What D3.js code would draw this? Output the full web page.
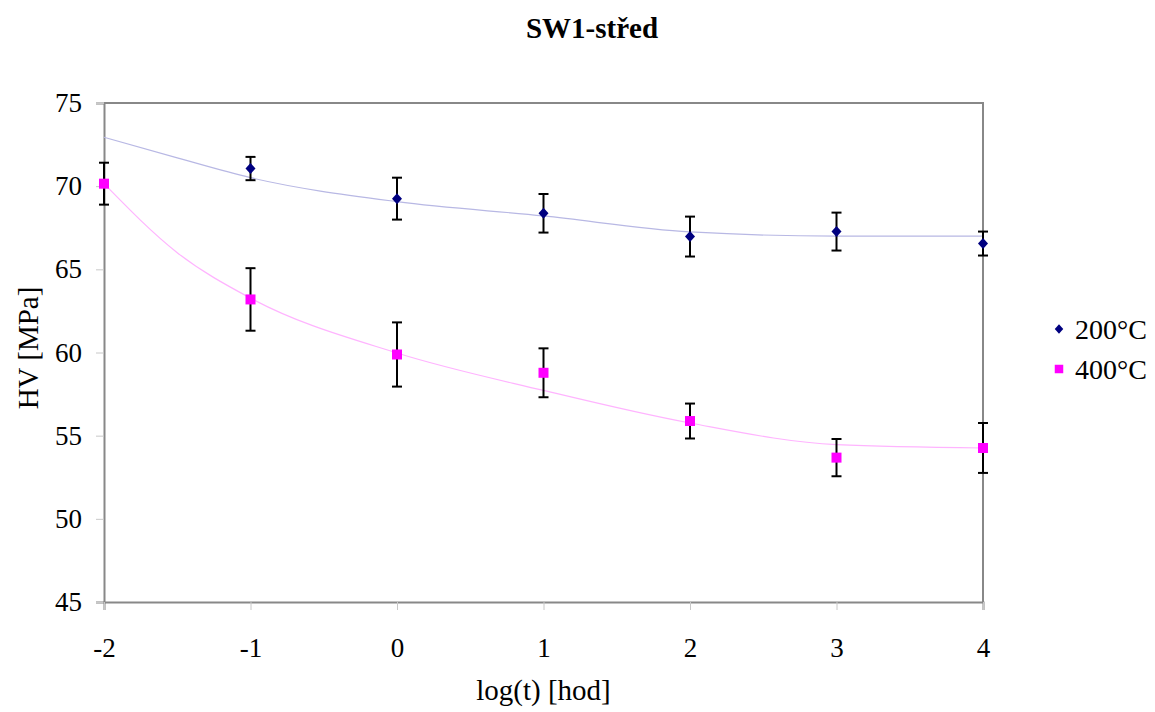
<!DOCTYPE html>
<html>
<head>
<meta charset="utf-8">
<script src="https://cdn.jsdelivr.net/npm/d3@7"></script>
<style>
  body { margin: 0; background: #fff; }
  svg, svg text { font-family: "Liberation Serif", "Times New Roman", "DejaVu Serif", serif; }
</style>
</head>
<body>
<script>
// values
const xValues = [-2, -1, 0, 1, 2, 3, 4];
const hv200 = [null, 71.06, 69.25, 68.37, 66.97, 67.27, 66.55];
const err200 = [null, 0.7, 1.26, 1.16, 1.2, 1.14, 0.72];
const hv400 = [70.15, 63.19, 59.88, 58.78, 55.88, 53.68, 54.26];
const err400 = [1.26, 1.88, 1.93, 1.47, 1.05, 1.12, 1.5];

// trend lines (read at sample points)
const trendX = [-2, -1.5, -1, 0, 1, 2, 3, 4];
const trend200 = [72.94, 71.7, 70.51, 69.07, 68.21, 67.25, 67.0, 67.0];
const trend400 = [70.15, 66.0, 63.27, 59.97, 57.72, 55.76, 54.46, 54.26];

const yTicks = [45, 50, 55, 60, 65, 70, 75];
const seriesNames = ['200°C', '400°C'];

const width = 1155;
const height = 712;
const plot = { left: 104, right: 983, top: 103, bottom: 602 };
const serif = '"Liberation Serif", "Times New Roman", serif';

const x = d3.scaleLinear().domain([-2, 4]).range([plot.left, plot.right]);
const y = d3.scaleLinear().domain([45, 75]).range([plot.bottom, plot.top]);

const svg = d3.select('body').append('svg')
  .attr('width', width)
  .attr('height', height)
  .attr('font-family', serif);

// frame (top and right edges)
svg.append('path')
  .attr('d', `M${plot.left},${plot.top}H${plot.right}V${plot.bottom}`)
  .attr('fill', 'none')
  .attr('stroke', '#888')
  .attr('stroke-width', 2);

const yAxis = svg.append('g')
  .attr('transform', `translate(${plot.left},0)`)
  .call(d3.axisLeft(y).tickValues(yTicks).tickSize(8).tickPadding(14));

const xAxis = svg.append('g')
  .attr('transform', `translate(0,${plot.bottom})`)
  .call(d3.axisBottom(x).tickValues(xValues).tickSize(8).tickPadding(28)
    .tickFormat(d3.format('d')));

[yAxis, xAxis].forEach((ax) => {
  ax.attr('font-family', serif).attr('font-size', 27);
  ax.select('.domain').attr('stroke', '#888').attr('stroke-width', 2);
  ax.selectAll('.tick line').attr('stroke', '#c8c8c8');
  ax.selectAll('.tick text')
    .attr('fill', '#000')
    .attr('font-family', serif)
    .style('font-size', '27px');
});
xAxis.selectAll('.tick text').text(d => (d < 0 ? `-${-d}` : d));

// trend lines
const line = d3.line()
  .x(d => x(d[0]))
  .y(d => y(d[1]))
  .curve(d3.curveMonotoneX);

svg.append('path')
  .datum(trendX.map((t, i) => [t, trend200[i]]))
  .attr('d', line)
  .attr('fill', 'none')
  .attr('stroke', '#b8b8e4')
  .attr('stroke-width', 1.2);

svg.append('path')
  .datum(trendX.map((t, i) => [t, trend400[i]]))
  .attr('d', line)
  .attr('fill', 'none')
  .attr('stroke', '#ffb4ff')
  .attr('stroke-width', 1.2);

function drawSeries(values, errs, color, symbol) {
  const pts = xValues.map((t, i) => ({ x: t, v: values[i], e: errs[i] }))
    .filter(d => d.v !== null);

  const g = svg.append('g');
  const bars = g.selectAll('.err').data(pts).enter().append('g')
    .attr('stroke', '#000')
    .attr('stroke-width', 2);
  bars.append('line')
    .attr('x1', d => x(d.x)).attr('x2', d => x(d.x))
    .attr('y1', d => y(d.v + d.e)).attr('y2', d => y(d.v - d.e));
  bars.append('line')
    .attr('x1', d => x(d.x) - 5).attr('x2', d => x(d.x) + 5)
    .attr('y1', d => y(d.v + d.e)).attr('y2', d => y(d.v + d.e));
  bars.append('line')
    .attr('x1', d => x(d.x) - 5).attr('x2', d => x(d.x) + 5)
    .attr('y1', d => y(d.v - d.e)).attr('y2', d => y(d.v - d.e));

  g.selectAll('.mark').data(pts).enter().append('path')
    .attr('transform', d => `translate(${x(d.x)},${y(d.v)})`)
    .attr('d', symbol)
    .attr('fill', color);
}

const diamond = 'M0,-5.5L5,0L0,5.5L-5,0Z';
const square = 'M-5,-5H5V5H-5Z';

drawSeries(hv200, err200, '#000080', diamond);
drawSeries(hv400, err400, '#ff00ff', square);

// title
svg.append('text')
  .attr('x', 592)
  .attr('y', 38)
  .attr('text-anchor', 'middle')
  .style('font-size', '29px')
  .style('font-weight', 'bold')
  .text('SW1-střed');

// axis titles
svg.append('text')
  .attr('x', (plot.left + plot.right) / 2)
  .attr('y', 700)
  .attr('text-anchor', 'middle')
  .style('font-size', '29px')
  .text('log(t) [hod]');

svg.append('text')
  .attr('transform', 'translate(38,348) rotate(-90)')
  .attr('text-anchor', 'middle')
  .style('font-size', '29px')
  .text('HV [MPa]');

// legend
const legend = svg.append('g').attr('transform', 'translate(1059,329)');
const symbols = [diamond, square];
const colors = ['#000080', '#ff00ff'];
seriesNames.forEach((name, i) => {
  const row = legend.append('g').attr('transform', `translate(0,${i * 40})`);
  row.append('path')
    .attr('d', symbols[i])
    .attr('transform', 'scale(0.85)')
    .attr('fill', colors[i]);
  row.append('text')
    .attr('x', 16)
    .attr('y', 10)
    .style('font-size', '28px')
    .text(name);
});
</script>
</body>
</html>
